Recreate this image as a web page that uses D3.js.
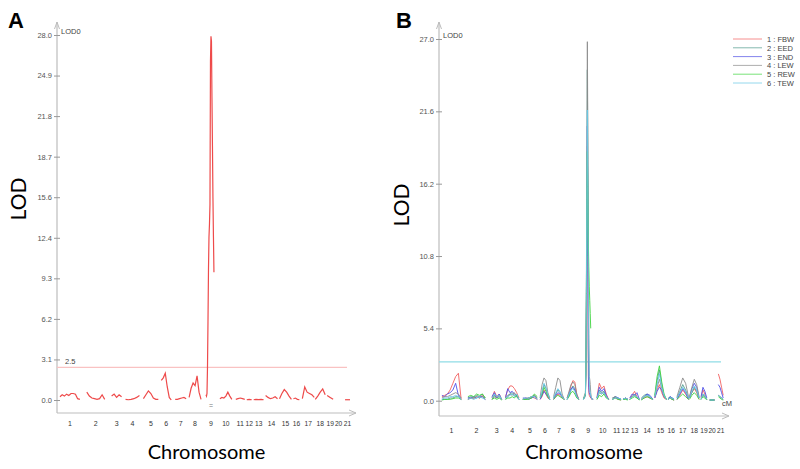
<!DOCTYPE html>
<html><head><meta charset="utf-8">
<script src="https://cdn.jsdelivr.net/npm/d3@7"></script>
<style>body{margin:0;background:#fff}svg{display:block}</style>
</head><body><svg id="c" width="800" height="469"></svg>
<script>
// ---------- data ----------
const chromosomes = ["1","2","3","4","5","6","7","8","9","10","11","12","13","14","15","16","17","18","19","20","21"];
const chrStart = [3,30,55,69,87,105,119,133,150,164,180,191,198,210,224,238,247,260,272,281,290];
const chrLen   = [20,18,10,14,15,10,11,12,10,12,9,5,10,12,12,6,12,10,6,5,5];

const ticksA = [0,3.111,6.222,9.333,12.444,15.556,18.667,21.778,24.889,28.0];
const ticksB = [0,5.4,10.8,16.2,21.6,27.0];
const thresholdA = 2.5;
const thresholdB = 2.9;

// Panel A: one trait, LOD values evenly spaced along each chromosome
const lodA = [
  [0.25,0.4,0.3,0.45,0.35,0.5,0.5,0.45,0.1,0.05],
  [0.6,0.3,0.15,0.1,0.05,0.1,0.4,0.05],
  [0.3,0.45,0.2,0.4,0.25],
  [0.05,0.02,0.05,0.1,0.2,0.35],
  [0.1,0.4,0.7,0.5,0.15,0.05,0.05],
  [1.5,1.7,2.05,1.0,0.2,0.0],
  [0.05,0.05,0.1,0.15,0.2,0.1],
  [0.2,0.9,1.3,1.1,1.85,0.6,0.05],
  [0.4,0.3,0.5,2.5,6,10,12.5,13.5,15,26,27.9,27.5,23.2,19.5,15.5,12.5,9.8,null,null,null,null],
  [0.1,0.2,0.15,0.3,0.6,0.3,0.05],
  [0.05,0.1,0.15,0.1,0.05],
  [0.02,0.05,0.02],
  [0.02,0.05,0.03,0.05,0.02],
  [0.35,0.2,0.1,0.15,0.25,0.1],
  [0.1,0.5,0.8,0.6,0.3,0.05],
  [0.1,0.15,0.05,0.02],
  [0.1,1.0,0.6,0.5,0.4,0.2],
  [0.05,0.3,0.6,0.85,0.4],
  [0.35,0.2,0.05],
  [],
  [0.02,0.02,0.02]
];

// Panel B: six traits
const traits = ["1 : FBW","2 : EED","3 : END","4 : LEW","5 : REW","6 : TEW"];
const traitColors = ["#f26060","#4f9a8c","#5050e6","#8c8c8c","#3ed43e","#68c8e6"];
const lodFBW = [
  [0.3,0.4,0.5,0.8,1.3,1.8,2.05,0.1],[0.1,0.2,0.15,0.3,0.2,0.4,0.1],[0.2,0.7,0.3,0.5,0.1],
  [0.3,0.8,1.1,1.1,0.9,0.6,0.2],[0.1,0.2,0.2,0.3,0.2,0.1],[0.1,0.3,0.8,0.5,0.2,0.1],
  [0.1,0.3,0.5,0.4,0.2,0.1],[0.2,0.6,1.1,1.5,1.4,0.5,0.1],
  [0.2,0.2,0.3,0.4,0.5,2,6,12,19,8,2,0.6,0.4,0.3,0.3,0.2,0.2,0.1,0.1,0.1,0.1],
  [0.3,1.3,0.9,1.1,0.5,0.1],[0.1,0.2,0.1,0.05],[0.1,0.2,0.1],[0.1,0.4,0.7,0.3,0.1],
  [0.1,0.2,0.3,0.2,0.1],[0.2,0.8,1.2,0.6,0.2,0.1],[0.1,0.2,0.1,0.05],[0.1,0.4,0.8,0.5,0.1],
  [0.2,0.6,0.9,0.6,0.1],[0.2,0.8,0.5,0.1],[0.05,0.05],[2.0,1.6,1.0,0.4]
];
const lodEED = [
  [0.1,0.1,0.1,0.2,0.2,0.3,0.3,0.1],[0.2,0.3,0.25,0.4,0.3,0.5,0.2],[0.1,0.4,0.2,0.3,0.1],
  [0.1,0.3,0.5,0.6,0.4,0.3,0.1],[0.1,0.1,0.2,0.3,0.4,0.2],[0.2,0.6,1.2,0.9,0.4,0.1],
  [0.2,0.5,0.8,0.6,0.3,0.1],[0.1,0.4,0.8,1.1,0.9,0.3,0.1],
  [null,null,null,null,null,null,null,10.8,24.7,18,10.8,null,null,null,null,null,null,null,null,null,null],
  [0.2,0.8,0.6,0.7,0.3,0.1],[0.2,0.3,0.2,0.1],[0.1,0.15,0.1],[0.1,0.3,0.5,0.2,0.1],
  [0.2,0.4,0.5,0.3,0.1],[0.3,1.5,2.3,1.2,0.4,0.1],[0.2,0.3,0.2,0.1],[0.2,0.7,1.2,0.8,0.2],
  [0.2,0.6,1.0,0.7,0.2],[0.1,0.4,0.3,0.1],[0.05,0.05],[0.4,0.3,0.2,0.1]
];
const lodEND = [
  [0.4,0.3,0.5,0.6,0.8,1.3,0.4,0.1],[0.2,0.2,0.3,0.2,0.3,0.3,0.1],[0.3,0.6,0.2,0.5,0.1],
  [0.2,0.9,0.6,0.7,0.5,0.4,0.1],[0.2,0.2,0.1,0.2,0.3,0.1],[0.1,0.4,0.7,0.5,0.3,0.1],
  [0.1,0.4,0.6,0.5,0.3,0.1],[0.1,0.5,0.9,1.0,0.8,0.4,0.1],
  [0.1,0.2,0.2,0.3,0.4,2,7,13,20.5,12,4,1.0,0.6,0.5,0.4,0.3,0.2,0.2,0.1,0.1,0.1],
  [0.2,1.0,0.7,0.9,0.4,0.1],[0.1,0.3,0.2,0.1],[0.1,0.2,0.1],[0.2,0.5,0.4,0.6,0.1],
  [0.1,0.3,0.5,0.4,0.1],[0.2,0.7,1.0,0.8,0.3,0.1],[0.1,0.3,0.2,0.1],[0.1,0.5,0.9,0.6,0.1],
  [0.2,0.9,1.3,1.0,0.2],[0.3,1.0,0.7,0.2],[0.05,0.05],[1.2,1.0,0.6,0.2]
];
const lodLEW = [
  [0.2,0.3,0.3,0.4,0.5,0.6,0.5,0.2],[0.1,0.2,0.2,0.3,0.2,0.3,0.1],[0.1,0.3,0.2,0.4,0.1],
  [0.2,0.4,0.5,0.4,0.6,0.3,0.1],[0.1,0.1,0.2,0.2,0.4,0.2],[0.3,1.2,1.7,1.5,0.6,0.2],
  [0.3,1.0,1.7,1.5,0.5,0.1],[0.2,0.7,1.2,1.4,1.2,0.5,0.1],
  [0.2,0.3,0.4,0.5,0.6,3,9,17,26.8,20,12,5,1.8,1.6,1.2,0.6,0.3,0.2,0.1,0.1,0.1],
  [0.1,0.6,0.5,0.6,0.3,0.1],[0.2,0.3,0.1,0.1],[0.1,0.2,0.1],[0.1,0.3,0.4,0.3,0.1],
  [0.1,0.3,0.4,0.2,0.1],[0.3,1.0,1.6,0.9,0.3,0.1],[0.1,0.2,0.1,0.05],[0.3,1.0,1.7,1.3,0.3],
  [0.3,1.0,1.6,1.2,0.3],[0.1,0.5,0.4,0.1],[0.05,0.05],[0.4,0.3,0.2,0.1]
];
const lodREW = [
  [0.05,0.1,0.1,0.1,0.15,0.2,0.2,0.1],[0.3,0.4,0.3,0.5,0.4,0.5,0.2],[0.1,0.2,0.1,0.2,0.05],
  [0.1,0.2,0.2,0.3,0.2,0.4,0.1],[0.1,0.1,0.1,0.2,0.5,0.3],[0.2,0.5,1.0,0.7,0.3,0.1],
  [0.1,0.3,0.4,0.3,0.2,0.1],[0.1,0.3,0.6,0.7,0.5,0.2,0.1],
  [0.1,0.2,0.3,0.3,0.5,2.5,8,14,18.6,15,12,10,8.5,7.5,6.5,5.4,null,null,null,null,null],
  [0.1,0.4,0.3,0.5,0.2,0.1],[0.1,0.2,0.1,0.05],[0.1,0.1,0.05],[0.1,0.2,0.3,0.2,0.05],
  [0.05,0.2,0.3,0.2,0.1],[0.4,1.8,2.6,1.4,0.5,0.1],[0.1,0.2,0.1,0.05],[0.1,0.3,0.5,0.3,0.1],
  [0.1,0.4,0.6,0.4,0.1],[0.1,0.3,0.2,0.05],[0.05,0.05],[0.3,0.2,0.1,0.05]
];
const lodTEW = [
  [0.1,0.2,0.2,0.3,0.3,0.4,0.3,0.1],[0.1,0.2,0.1,0.2,0.3,0.2,0.1],[0.2,0.5,0.3,0.4,0.1],
  [0.2,0.3,0.4,0.5,0.3,0.5,0.1],[0.1,0.2,0.2,0.3,0.3,0.1],[0.2,0.7,1.3,1.0,0.5,0.1],
  [0.2,0.6,0.9,0.7,0.3,0.1],[0.1,0.5,0.8,0.9,0.7,0.3,0.1],
  [0.1,0.2,0.3,0.4,0.5,2.5,8,15,21.7,16,9,4,1.5,0.8,0.6,0.4,0.3,0.2,0.1,0.1,0.1],
  [0.2,0.7,0.5,0.6,0.3,0.1],[0.1,0.2,0.2,0.1],[0.1,0.2,0.1],[0.1,0.3,0.4,0.3,0.1],
  [0.1,0.3,0.4,0.3,0.1],[0.3,1.2,2.0,1.0,0.4,0.1],[0.1,0.2,0.2,0.1],[0.2,0.6,1.0,0.7,0.2],
  [0.2,0.7,1.1,0.8,0.2],[0.1,0.5,0.4,0.1],[0.05,0.05],[0.4,0.3,0.2,0.1]
];
const lodB = [lodFBW, lodEED, lodEND, lodLEW, lodREW, lodTEW];

// ---------- drawing ----------
const svg = d3.select("#c");
const axisColor = "#bdbdbd";
const tickFont = "Liberation Sans, Arial, sans-serif";
const titleFont = "Lato, 'Open Sans', sans-serif";

function toPoints(vals, ci){
  const n = vals.length;
  return vals.map((v,i)=>({g: chrStart[ci] + (n>1 ? i*chrLen[ci]/(n-1) : 0), v}));
}

function panel(opt){
  const x = d3.scaleLinear().domain([0,300]).range([opt.x0, opt.x1]);
  const y = d3.scaleLinear().domain([0, opt.ymax]).range([opt.yZero, opt.yTop]);
  const g = svg.append("g");
  const axisY = opt.axisY;

  g.append("line").attr("x1",opt.x0).attr("x2",opt.x0).attr("y1",opt.arrowTop).attr("y2",axisY)
    .attr("stroke",axisColor).attr("stroke-width",1.2);
  g.append("path").attr("d",`M${opt.x0-2.5},${opt.arrowTop+7}L${opt.x0},${opt.arrowTop}L${opt.x0+2.5},${opt.arrowTop+7}`)
    .attr("fill","none").attr("stroke",axisColor).attr("stroke-width",1);
  g.append("line").attr("x1",opt.x0).attr("x2",opt.xArrow).attr("y1",axisY).attr("y2",axisY)
    .attr("stroke",axisColor).attr("stroke-width",1.2);
  g.append("path").attr("d",`M${opt.xArrow-7},${axisY-3}L${opt.xArrow},${axisY}L${opt.xArrow-7},${axisY+3}`)
    .attr("fill","none").attr("stroke",axisColor).attr("stroke-width",1);

  const ax = d3.axisLeft(y).tickValues(opt.ticks).tickFormat(d3.format(".1f")).tickSizeInner(3).tickSizeOuter(0).tickPadding(2);
  const ag = g.append("g").attr("transform",`translate(${opt.x0},0)`).call(ax);
  ag.select(".domain").remove();
  ag.selectAll(".tick line").attr("stroke","#999").attr("x2",3).attr("x1",-3);
  ag.selectAll(".tick text").attr("font-family",tickFont).attr("font-size",7.5).attr("fill","#555");

  g.append("text").attr("x",opt.x0+4).attr("y",y(opt.ymax)-1).text("LOD0")
    .attr("font-family",tickFont).attr("font-size",7.5).attr("fill","#444");

  g.selectAll(".cl").data(chromosomes).enter().append("text")
    .attr("x",(d,i)=>x(chrStart[i]+chrLen[i]/2)).attr("y",opt.labelY)
    .attr("text-anchor","middle").attr("font-family",tickFont).attr("font-size",7).attr("fill","#333")
    .attr("textLength",(d)=>d.length>1?7.4:null).attr("lengthAdjust","spacingAndGlyphs")
    .text(d=>d);

  g.append("line").attr("x1",opt.x0).attr("x2",opt.thrEnd).attr("y1",y(opt.thr)).attr("y2",y(opt.thr))
    .attr("stroke",opt.thrColor).attr("stroke-width",1.2);

  g.append("text").attr("x",(opt.x0+opt.xArrow)/2+opt.titleDx).attr("y",459).attr("text-anchor","middle")
    .attr("font-family",titleFont).attr("font-size",20).attr("fill","#000").text("Chromosome");
  g.append("text").attr("transform",`translate(${opt.lodX},${opt.lodY}) rotate(-90)`).attr("text-anchor","middle")
    .attr("font-family",titleFont).attr("font-size",21).attr("fill","#000").text("LOD");
  g.append("text").attr("x",opt.letterX).attr("y",28).attr("font-family","Liberation Sans, Arial, sans-serif")
    .attr("font-weight","bold").attr("font-size",22).text(opt.letter);

  const line = d3.line().defined(d=>d.v!=null).x(d=>x(d.g)).y(d=>y(d.v));
  return {g,x,y,line};
}

// Panel A
const A = panel({x0:57,x1:355,xArrow:356,yZero:400,yTop:35,ymax:28,arrowTop:22,axisY:413,ticks:ticksA,
  labelY:426,thr:thresholdA,thrEnd:347,thrColor:"#f9c2c2",lodX:26,lodY:199,letterX:8,letter:"A",titleDx:0});
A.g.append("text").attr("x",A.x(chrStart[0])+5).attr("y",A.y(thresholdA)-3).text("2.5")
  .attr("font-family",tickFont).attr("font-size",7.5).attr("fill","#444");
lodA.forEach((vals,ci)=>{
  if(!vals.length) return;
  A.g.append("path").attr("d",A.line(toPoints(vals,ci))).attr("fill","none")
    .attr("stroke","#ee4a4a").attr("stroke-width",1.2);
});
A.g.append("text").attr("x",A.x(chrStart[8]+chrLen[8]/2)).attr("y",408).attr("text-anchor","middle")
  .attr("font-family",tickFont).attr("font-size",7).attr("fill","#777").text("=");

// Panel B
const B = panel({x0:439,x1:728,xArrow:729,yZero:400.7,yTop:39,ymax:27,arrowTop:22,axisY:416,ticks:ticksB,
  labelY:433,thr:thresholdB,thrEnd:721,thrColor:"#8fdce6",lodX:409,lodY:205,letterX:396,letter:"B",titleDx:0});
lodB.forEach((series,ti)=>{
  series.forEach((vals,ci)=>{
    if(!vals.length) return;
    B.g.append("path").attr("d",B.line(toPoints(vals,ci))).attr("fill","none")
      .attr("stroke",traitColors[ti]).attr("stroke-width",0.9);
  });
});
B.g.append("text").attr("x",722).attr("y",406).text("cM")
  .attr("font-family",tickFont).attr("font-size",7.5).attr("fill","#444");

// legend
const lg = svg.append("g");
traits.forEach((t,i)=>{
  const yy = 39 + i*8.8;
  lg.append("line").attr("x1",733).attr("x2",762).attr("y1",yy).attr("y2",yy)
    .attr("stroke",traitColors[i]).attr("stroke-width",1).attr("stroke-opacity",0.7);
  lg.append("text").attr("x",767).attr("y",yy+3).text(t)
    .attr("font-family",tickFont).attr("font-size",7.5).attr("fill","#444");
});
</script></body></html>
